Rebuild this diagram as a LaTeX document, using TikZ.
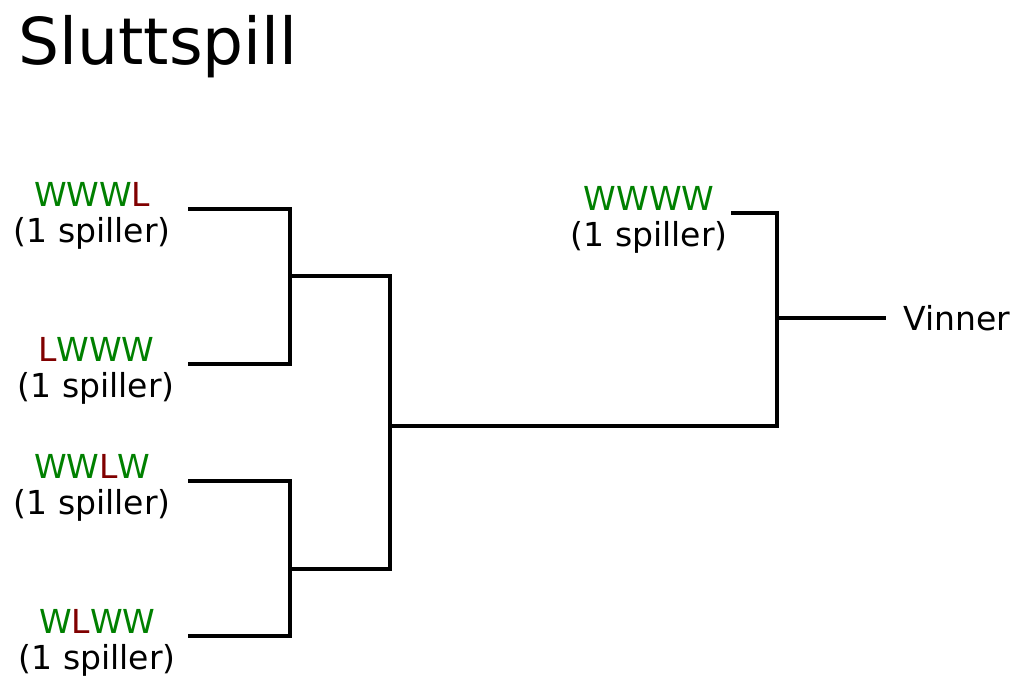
\documentclass[tikz,border=0pt]{standalone}
\usepackage{fontspec}
\setmainfont{DejaVu Sans}
\definecolor{vunnet}{RGB}{0,128,0}
\definecolor{tapt}{RGB}{128,0,0}
\tikzstyle{deltaker}=[anchor=east, align=center, inner xsep=0.34cm,
  inner ysep=0pt, text height=41.5pt, font=\fontsize{18.8}{20}\selectfont]
\tikzstyle{tekst}=[inner xsep=0.34cm, font=\fontsize{18.8}{20}\selectfont]
\tikzstyle{linje}=[draw, line width=1.9pt]
\newcommand{\Wv}{\textcolor{vunnet}{W}}
\newcommand{\Lt}{\textcolor{tapt}{L}}
\newcommand{\spiller}[3]{node (#1) [deltaker,#3] {#2\\(1 spiller)}}

\begin{document}
\begin{tikzpicture}[x=0.02cm,y=-0.02cm]
  \useasboundingbox (0,0) rectangle (1024,692);

  % Title
  \node (tittel) [anchor=base west, inner sep=0pt,
    font=\fontsize{36.8}{40}\selectfont] at (18,65) {Sluttspill};

  % Draw players
  \path (188,209) \spiller{WWWL}{\Wv\Wv\Wv\Lt}{};
  \path (188,364) \spiller{LWWW}{\Lt\Wv\Wv\Wv}{inner xsep=0.26cm};
  \path (188,481) \spiller{WWLW}{\Wv\Wv\Lt\Wv}{};
  \path (188,636) \spiller{WLWW}{\Wv\Lt\Wv\Wv}{inner xsep=0.24cm};
  \path (731,213) \spiller{WWWW}{\Wv\Wv\Wv\Wv}{inner xsep=0.06cm};
  \node (vinner) [tekst, anchor=west] at (886,318) {Vinner};

  % Junctions
  \coordinate (semi1) at (290,276);
  \coordinate (semi2) at (290,569);
  \coordinate (finale) at (390,426);
  \coordinate (topp) at (777,318);

  % Draw lines between players
  \path [linje] (WWWL.east) -| (semi1);
  \path [linje] (LWWW.east) -| (semi1);
  \path [linje] (WWLW.east) -| (semi2);
  \path [linje] (WLWW.east) -| (semi2);
  \path [linje] (semi1) -| (finale);
  \path [linje] (semi2) -| (finale);
  \path [linje] (finale) -| (topp);
  \path [linje] (WWWW.east) -| (topp);
  \path [linje] (topp) -- (vinner.west);

\end{tikzpicture}
\end{document}
